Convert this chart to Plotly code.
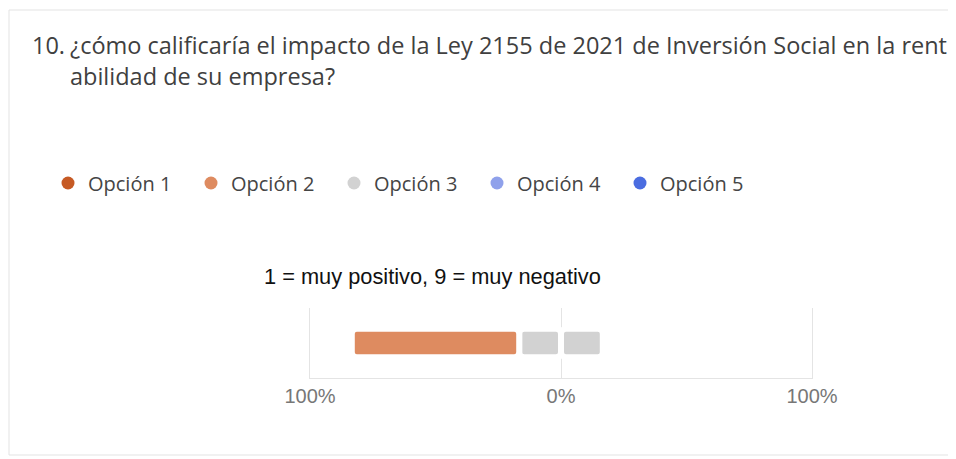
import plotly.graph_objects as go

# ---- data ----
options = ["Opción 1", "Opción 2", "Opción 3", "Opción 4", "Opción 5"]
shares = [0.0, 66.7, 33.3, 0.0, 0.0]          # percent of answers
colors = ["#C65A24", "#DE8B60", "#D2D2D2", "#8FA1EB", "#4B6DE0"]
row = ["P10"]
tick_vals = [-100, 0, 100]
tick_text = ["100%", "0%", "100%"]
title_num = "10."
title_lines = [
    "¿cómo calificaría el impacto de la Ley 2155 de 2021 de Inversión Social en la rent",
    "abilidad de su empresa?",
]
subtitle = "1 = muy positivo, 9 = muy negativo"

# ---- layout geometry (pixels); page body has an 8px margin ----
OFF = 8
W, H = 956, 459
ML, MR, MT, MB = 302, 152, 300, 89
PW, PH = W - ML - MR, H - MT - MB


def px_x(sx):
    return (sx - OFF - ML) / PW


def px_y(sy):
    return (H - MB - (sy - OFF)) / PH


# ---- diverging segments: neutral option split around 0 ----
neutral = 2
half = shares[neutral] / 2
segments = [(neutral, -half, half), (neutral, 0.0, half)]
cur = -half
for i in range(neutral - 1, -1, -1):
    cur -= shares[i]
    segments.append((i, cur, shares[i]))
cur = half
for i in range(neutral + 1, len(options)):
    segments.append((i, cur, shares[i]))
    cur += shares[i]

fig = go.Figure()
for i, base, length in segments:
    if length <= 0:
        continue
    fig.add_trace(go.Bar(
        y=row, x=[length], base=[base], orientation="h",
        width=0.41,
        marker=dict(color=colors[i], line=dict(color="white", width=6), cornerradius=5),
        showlegend=False, name=options[i],
    ))

# legend entries (round markers)
for name, col in zip(options, colors):
    fig.add_trace(go.Scatter(
        x=[None], y=[None], mode="markers", name=name,
        marker=dict(size=13, color=col),
    ))

grid_col = "#e4e4e4"
fig.update_layout(
    width=W, height=H,
    margin=dict(l=ML, r=MR, t=MT, b=MB, autoexpand=False),
    paper_bgcolor="white", plot_bgcolor="white",
    barmode="overlay",
    showlegend=True,
    legend=dict(
        orientation="h", xref="paper", yref="paper",
        x=px_x(48), y=px_y(183), xanchor="left", yanchor="middle",
        font=dict(family="Open Sans", size=20, color="#454545"),
        itemwidth=30, entrywidth=98, entrywidthmode="pixels",
        bgcolor="rgba(0,0,0,0)",
    ),
    xaxis=dict(
        range=[-100, 100], tickvals=tick_vals, ticktext=tick_text,
        showgrid=True, gridcolor=grid_col, gridwidth=1,
        zeroline=True, zerolinecolor=grid_col, zerolinewidth=1,
        showline=True, linecolor=grid_col, linewidth=1,
        ticks="", tickfont=dict(family="Liberation Sans, Arial", size=20, color="#777777"),
        fixedrange=True,
    ),
    yaxis=dict(
        range=[-0.5, 0.5], showticklabels=False, showgrid=False, zeroline=False,
        showline=True, mirror=True, linecolor=grid_col, linewidth=1,
        ticks="", fixedrange=True,
    ),
    shapes=[dict(
        type="rect", xref="paper", yref="paper",
        x0=px_x(9), x1=px_x(975), y0=px_y(455), y1=px_y(10),
        line=dict(color="#e3e3e3", width=1), fillcolor="rgba(0,0,0,0)", layer="below",
    )],
)

title_font = dict(family="Open Sans", size=23.5, color="#404040")
ann = [
    dict(text=title_num, x=px_x(30), y=px_y(45), font=title_font),
    dict(text=title_lines[0], x=px_x(68), y=px_y(45), font=title_font),
    dict(text=title_lines[1], x=px_x(68), y=px_y(76), font=title_font),
    dict(text=subtitle, x=px_x(262), y=px_y(276),
         font=dict(family="Liberation Sans, Arial", size=21.8, color="#111111")),
]
for a in ann:
    fig.add_annotation(xref="paper", yref="paper", xanchor="left", yanchor="middle",
                       showarrow=False, **a)

fig.write_html("out.html")
